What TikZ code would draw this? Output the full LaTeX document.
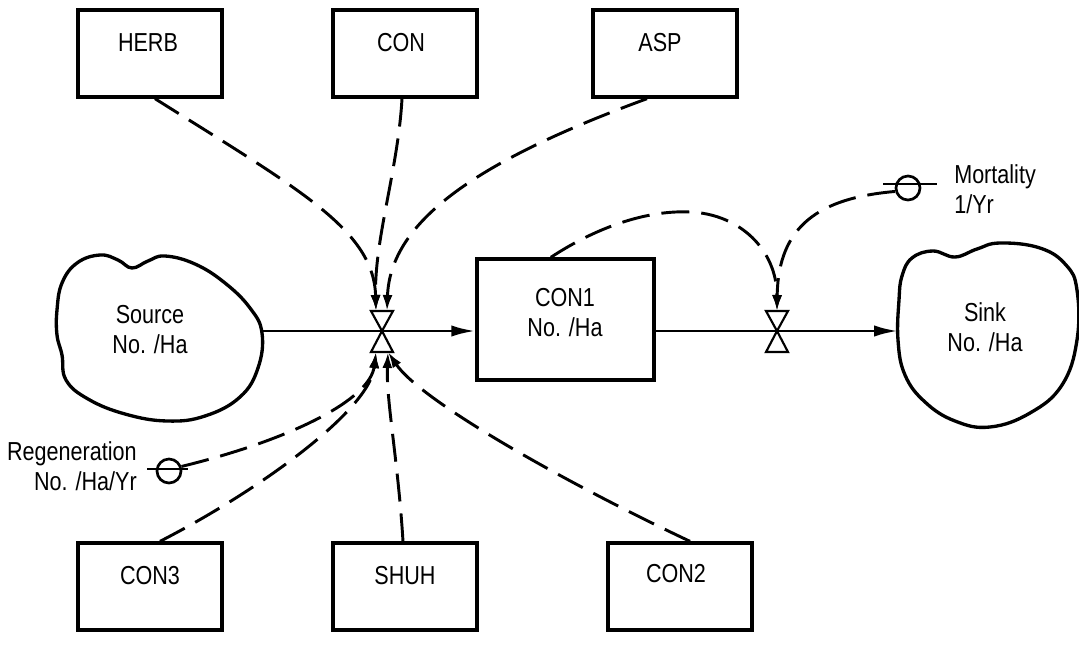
\documentclass[tikz,border=0pt]{standalone}
\usepackage{fontspec}
\setmainfont{Liberation Sans}[FakeStretch=0.83]
\usetikzlibrary{arrows.meta}
\begin{document}
\begin{tikzpicture}[x=0.75pt,y=-0.75pt,
  box/.style={draw,line width=2.5pt,minimum width=108pt,minimum height=65.25pt,inner sep=0pt},
  stock/.style={draw,line width=2.5pt,minimum width=132.75pt,minimum height=90.75pt,inner sep=0pt},
  lbl/.style={font=\fontsize{19.5}{22.5}\selectfont,align=center,inner sep=0pt},
  cloud/.style={line width=2.5pt},
  flowline/.style={line width=2.2pt},
  flowarrow/.style={line width=2.2pt,-{Latex[length=18pt,width=8.5pt]}},
  dep/.style={line width=2.2pt,dash pattern=on 21pt off 9pt,-{Latex[length=12pt,width=7.5pt]}},
  valvepart/.style={draw,fill=white,line width=1.6pt,line join=miter},
  param/.style={draw,circle,line width=2pt,minimum size=18pt,inner sep=0pt},
  paramline/.style={line width=1.6pt},
  ]
\useasboundingbox (0,0) rectangle (1079,647);

% auxiliary boxes, top row
\node[box] (herb) at (150,53.5) {};
\node[lbl] (herbT) at (148,43) {HERB};
\node[box] (con) at (405,53.5) {};
\node[lbl] (conT) at (401,43) {CON};
\node[box] (asp) at (665,53.5) {};
\node[lbl] (aspT) at (660,43) {ASP};

% auxiliary boxes, bottom row
\node[box] (con3) at (150,586.5) {};
\node[lbl] (con3T) at (150,576) {CON3};
\node[box] (shuh) at (405,586.5) {};
\node[lbl] (shuhT) at (405,576) {SHUH};
\node[box] (con2) at (680,586.5) {};
\node[lbl] (con2T) at (676,574) {CON2};

% level
\node[stock] (con1) at (565.5,319.5) {};
\node[lbl] (con1T) at (565,312.5) {CON1\\No. /Ha};

% source and sink clouds
\draw[cloud] plot[smooth cycle, tension=0.7] coordinates {(57,310) (62,283) (77,263) (100,255) (118,260) (132,268) (148,261) (165,256) (195,264) (225,283) (250,308) (262,333) (258,368) (240,397) (205,416) (167,421) (125,414) (88,399) (66,380) (62,355) (57,335)};
\node[lbl] (srcT) at (150,330) {Source\\No. /Ha};
\coordinate (srcR) at (262,331);

\draw[cloud] plot[smooth cycle, tension=0.7] coordinates {(899,300) (902,276) (912,258) (933,251) (955,257) (977,249) (1000,243) (1040,248) (1066,265) (1077,290) (1077,340) (1062,385) (1030,413) (990,427) (955,421) (925,402) (905,375) (898,340)};
\node[lbl] (sinkT) at (985,327) {Sink\\No. /Ha};
\coordinate (sinkL) at (898,331);

% valves
\coordinate (v1) at (382,331);
\coordinate (v2) at (777,331);
\draw[flowline] (srcR) -- (v1);
\draw[flowarrow] (v1) -- (con1.west |- v1);
\draw[flowline] (con1.east |- v2) -- (v2);
\draw[flowarrow] (v2) -- (sinkL);
\foreach \v in {v1,v2}{
  \path[valvepart] (\v) -- ++(-11,-20) -- ++(22,0) -- cycle;
  \path[valvepart] (\v) -- ++(-11,21) -- ++(22,0) -- cycle;
}
\coordinate (v1tl) at (376,311);
\coordinate (v1tr) at (387,311);
\coordinate (v1bl) at (376,352);
\coordinate (v1br) at (388,352);
\coordinate (v2t) at (777,311);

% parameters
\node[param] (regen) at (169,471) {};
\draw[paramline] ([xshift=-16.5pt,yshift=1.5pt]regen.center) -- ([xshift=14pt,yshift=1.5pt]regen.center);
\node[lbl,align=right,anchor=east] (regenT) at (137,466) {Regeneration\\No. /Ha/Yr};

\node[param] (mort) at (908,188) {};
\draw[paramline] ([xshift=-18.75pt,yshift=3pt]mort.center) -- ([xshift=21.75pt,yshift=3pt]mort.center);
\node[lbl,align=left,anchor=west] (mortT) at (954,189) {Mortality\\1/Yr};

% information links into the first rate
\draw[dep] ([xshift=3.75pt]herb.south) .. controls (300,190) and (374,230) .. (v1tl);
\draw[dep] ([xshift=-2.25pt]con.south) .. controls (398,170) and (374,240) .. (v1tl);
\draw[dep] ([xshift=-13.5pt]asp.south) .. controls (480,160) and (390,220) .. (v1tr);
\draw[dep] (regen.20) .. controls (290,440) and (370,400) .. (v1bl);
\draw[dep] ([xshift=7.5pt]con3.north) .. controls (260,490) and (370,410) .. (v1bl);
\draw[dep] ([xshift=-1.5pt]shuh.north) .. controls (398,460) and (386,400) .. (v1br);
\draw[dep] ([xshift=7.5pt]con2.north) .. controls (560,480) and (420,400) .. (v1br);

% information links into the second rate
\draw[dep] ([xshift=-11pt]con1.north) .. controls (600,225) and (650,210) .. (690,212) .. controls (740,214) and (777,250) .. (v2t);
\draw[dep] (mort.195) .. controls (820,198) and (778,225) .. (v2t);
\end{tikzpicture}
\end{document}
